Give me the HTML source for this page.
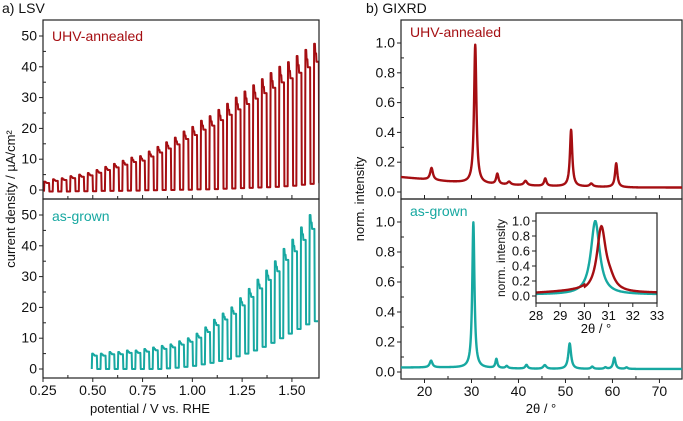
<!DOCTYPE html>
<html><head><meta charset="utf-8"><style>
html,body{margin:0;padding:0;background:#fff}
svg{display:block;font-family:"Liberation Sans",Arial,sans-serif}
</style></head><body>
<svg id="fig" width="683" height="421" viewBox="0 0 683 421" xmlns="http://www.w3.org/2000/svg"></svg>
<script>
// ---------- LSV data ----------
const lsvPeriod = 0.0437;
const annealedStart = 0.255;
const annealedPeaks = [2.7,3.5,3.8,4.5,5,5.5,6.5,7.5,8.5,9.5,10.5,11,12.5,14,15.5,17,19,20.5,22.5,24,26,28,30,32,34,36,38,40,41.5,43.5,45.5,47.5];
const annealedDark = [-0.5,-0.5,-0.5,-0.4,-0.4,-0.4,-0.3,-0.3,-0.3,-0.2,-0.2,-0.1,-0.1,0,0,0.1,0.1,0.2,0.2,0.3,0.4,0.5,0.6,0.7,0.8,0.9,1.0,1.2,1.4,1.7,2.0,2.4];
const grownStart = 0.495;
const grownPeaks = [5,5,5.5,5.5,6,6,6.5,7,7.5,8,9,10,11.5,13.5,16,18,20,23,26,29,32,35,39,42,46,50];
const grownDark = [0,0,0,0,0,0,0,0,0.2,0.4,0.7,1,1.5,2,2.6,3.3,4.1,5,6,7.2,8.5,10,11.5,13,14.5,15.5];
const lsvXTicks = [0.25,0.50,0.75,1.00,1.25,1.50];
const lsvYTicks = [0,10,20,30,40,50];
// ---------- XRD data ----------
const annealedXrdCenters = [21.5,30.8,35.5,38,41.5,45.7,51.2,55.5,60.8];
const annealedXrdHeights = [0.08,0.93,0.07,0.02,0.03,0.05,0.38,0.02,0.16];
const annealedXrdWidths  = [0.35,0.3,0.3,0.4,0.4,0.3,0.3,0.4,0.3];
const annealedBg = [0.1,0.07,0.05,0.04,0.035,0.03,0.03];   // at 15,25,35,45,55,65,75
const grownXrdCenters = [21.4,30.4,35.3,37.5,41.7,45.6,50.9,55.7,58.5,60.4,63];
const grownXrdHeights = [0.045,0.97,0.06,0.015,0.025,0.025,0.17,0.015,0.01,0.075,0.01];
const grownXrdWidths  = [0.35,0.28,0.25,0.3,0.3,0.4,0.35,0.3,0.3,0.3,0.3];
const grownBg = [0.03,0.03,0.025,0.02,0.02,0.02,0.02];
const xrdXTicks = [20,30,40,50,60,70];
const xrdYTicks = [0.0,0.2,0.4,0.6,0.8,1.0];
const insetXTicks = [28,29,30,31,32,33];
const insetYTicks = [0.0,0.2,0.4,0.6,0.8,1.0];

const RED='#a50e12', TEAL='#17a8a1';
const svg=document.getElementById('fig');
const NS='http://www.w3.org/2000/svg';
function mk(tag,attrs,parent){const e=document.createElementNS(NS,tag);for(const k in attrs)e.setAttribute(k,attrs[k]);(parent||svg).appendChild(e);return e;}
function txt(s,x,y,size,anchor,fill,name,parent){const t=mk('text',{x:x,y:y,'font-size':size,'text-anchor':anchor||'middle',fill:fill||'#111'},parent);t.textContent=s;


return t;}
function lin(d0,d1,r0,r1){return v=>r0+(v-d0)*(r1-r0)/(d1-d0);}

function frame(x0,y0,x1,y1,name){const r=mk('rect',{x:x0,y:y0,width:x1-x0,height:y1-y0,fill:'none',stroke:'#222','stroke-width':1.2});

}

function yAxis(ticks,sy,x0,fmt,size,name,minor){
  ticks.forEach(v=>{const y=sy(v);mk('line',{x1:x0-4,x2:x0,y1:y,y2:y,stroke:'#222'});
    txt(fmt(v),x0-6,y+4.5,size,'end','#111',name);});
  if(minor)minor.forEach(v=>{const y=sy(v);mk('line',{x1:x0,x2:x0+3,y1:y,y2:y,stroke:'#222'});});
}
function xAxis(ticks,sx,yb,fmt,size,name,labels,up){
  ticks.forEach(v=>{const x=sx(v);mk('line',{x1:x,x2:x,y1:yb,y2:up?yb-4:yb+4,stroke:'#222'});
    if(labels)txt(fmt(v),x,yb+17,size,'middle','#111',name);});
}

// ---------- LSV panels ----------
const LX0=43,LX1=319;
const sxL=lin(0.25,1.636,LX0,LX1);
const syTop=lin(0,50,190,36), syBot=lin(0,50,369,215);
const lc=mk('clipPath',{id:'lc'});mk('rect',{x:LX0,y:20,width:LX1-LX0,height:358},lc);
const lg=mk('g',{'clip-path':'url(#lc)'});
frame(LX0,20,LX1,199,'lsv-annealed-frame');
frame(LX0,199,LX1,378,'lsv-grown-frame');
yAxis(lsvYTicks,syTop,LX0,v=>v,14,'lsv-annealed-y-tick',[5,15,25,35,45]);
yAxis(lsvYTicks,syBot,LX0,v=>v,14,'lsv-grown-y-tick',[5,15,25,35,45]);
xAxis(lsvXTicks,sxL,199,v=>v.toFixed(2),14,'lsv-x-tick',false,true);
xAxis(lsvXTicks,sxL,378,v=>v.toFixed(2),14,'lsv-x-tick',true,false);
[0.375,0.625,0.875,1.125,1.375].forEach(v=>{mk('line',{x1:sxL(v),x2:sxL(v),y1:378,y2:375,stroke:'#222'});mk('line',{x1:sxL(v),x2:sxL(v),y1:199,y2:196,stroke:'#222'});});

function lsvPath(start,peaks,dark,sy,color,name){
  let d='';
  peaks.forEach((p,i)=>{
    const v0=start+i*lsvPeriod, von=v0+lsvPeriod*0.04, voff=v0+lsvPeriod*0.58, vend=v0+lsvPeriod;
    const b=dark[i], plat=b+(p-b)*0.87, mid=b+(p-b)*0.93;
    d+=(i===0?'M':'L')+sxL(v0)+','+sy(b)+' L'+sxL(von)+','+sy(p)+' L'+sxL(von+0.004)+','+sy(p)+' L'+sxL(von+0.006)+','+sy(mid)
      +' L'+sxL(von+0.010)+','+sy(mid)+' L'+sxL(von+0.012)+','+sy(plat)+' L'+sxL(voff)+','+sy(plat)+' L'+sxL(voff+0.002)+','+sy(b)+' L'+sxL(vend)+','+sy(b)+' ';
  });
  const pth=mk('path',{d:d,fill:'none',stroke:color,'stroke-width':2,'stroke-linejoin':'round'},lg);
  
  
}
lsvPath(annealedStart,annealedPeaks,annealedDark,syTop,RED,'lsv-annealed-line');
lsvPath(grownStart,grownPeaks,grownDark,syBot,TEAL,'lsv-grown-line');
txt('UHV-annealed',52,41,14,'start',RED,'lsv-annealed-label');
txt('as-grown',52,221,14,'start',TEAL,'lsv-grown-label');
txt('a) LSV',2,13,14,'start','#111','panel-a-title');
const yl=txt('current density / µA/cm²',0,0,13,'middle','#111','lsv-y-axis-title');yl.setAttribute('transform','translate(15,199) rotate(-90)');
txt('potential / V vs. RHE',150,413,13,'middle','#111','lsv-x-axis-title');

// ---------- XRD ----------
const RX0=401,RX1=682;
const sxR=lin(15,74.8,RX0,RX1);
const syRT=lin(0,1,192,43), syRB=lin(0,1,372,222);
frame(RX0,20,RX1,199,'xrd-annealed-frame');
frame(RX0,199,RX1,379,'xrd-grown-frame');
yAxis(xrdYTicks,syRT,RX0,v=>v.toFixed(1),14,'xrd-annealed-y-tick',[0.1,0.3,0.5,0.7,0.9]);
yAxis(xrdYTicks,syRB,RX0,v=>v.toFixed(1),14,'xrd-grown-y-tick',[0.1,0.3,0.5,0.7,0.9]);
xAxis(xrdXTicks,sxR,199,v=>v,14,'xrd-x-tick',false,true);
xAxis(xrdXTicks,sxR,379,v=>v,14,'xrd-x-tick',true,false);
[25,35,45,55,65].forEach(v=>{mk('line',{x1:sxR(v),x2:sxR(v),y1:379,y2:376,stroke:'#222'});mk('line',{x1:sxR(v),x2:sxR(v),y1:199,y2:196,stroke:'#222'});});

function xrdVal(t,c,h,w,bg){
  const bi=Math.min(5,Math.max(0,Math.floor((t-15)/10))), f=(t-15-bi*10)/10;
  let y=bg[bi]*(1-f)+bg[bi+1]*f;
  for(let k=0;k<c.length;k++){const u=(t-c[k])/w[k];y+=h[k]/(1+u*u);}
  return y;
}
function xrdPath(t0,t1,step,c,h,w,bg,sx,sy,color,name,sw){
  let d='';
  for(let t=t0;t<=t1+1e-9;t+=step){d+=(d?'L':'M')+sx(t).toFixed(2)+','+sy(xrdVal(t,c,h,w,bg)).toFixed(2)+' ';}
  const p=mk('path',{d:d,fill:'none',stroke:color,'stroke-width':sw,'stroke-linejoin':'round'});
  
  
}
xrdPath(15,74.8,0.05,annealedXrdCenters,annealedXrdHeights,annealedXrdWidths,annealedBg,sxR,syRT,RED,'xrd-annealed-line',2.4);
xrdPath(15,74.8,0.05,grownXrdCenters,grownXrdHeights,grownXrdWidths,grownBg,sxR,syRB,TEAL,'xrd-grown-line',2.4);
txt('UHV-annealed',410,37,14,'start',RED,'xrd-annealed-label');
txt('as-grown',410,216,14,'start',TEAL,'xrd-grown-label');
txt('b) GIXRD',366,13,14,'start','#111','panel-b-title');
const yr=txt('norm. intensity',0,0,13,'middle','#111','xrd-y-axis-title');yr.setAttribute('transform','translate(364,199) rotate(-90)');
txt('2θ / °',541,413,13,'middle','#111','xrd-x-axis-title');

// ---------- inset ----------
const IX0=536,IX1=657,IY0=213,IY1=303;
const sxI=lin(28,33,IX0,IX1), syI=lin(0,1,296,221);
const clip=mk('clipPath',{id:'ic'});mk('rect',{x:IX0,y:IY0,width:IX1-IX0,height:IY1-IY0},clip);
mk('rect',{x:IX0,y:IY0,width:IX1-IX0,height:IY1-IY0,fill:'#fff'});
const g=mk('g',{'clip-path':'url(#ic)'});
function inPath(c,h,w,base,color,name){
  let d='';
  for(let t=28;t<=33.001;t+=0.02){let y=base(t);for(let k=0;k<c.length;k++){const u=(t-c[k])/w[k];y+=h[k]/(1+u*u);}
    d+=(d?'L':'M')+sxI(t).toFixed(2)+','+syI(y).toFixed(2)+' ';}
  const p=mk('path',{d:d,fill:'none',stroke:color,'stroke-width':2.4},g);
  
  
}
inPath([30.45],[0.98],[0.22],t=>0.02,TEAL,'inset-grown-line');
inPath([30.7,31.05],[0.85,0.12],[0.22,0.25],t=>t<30?0.04+0.03*(t-28)/2:0.04,RED,'inset-annealed-line');
frame(IX0,IY0,IX1,IY1,'inset-frame');
yAxis(insetYTicks,syI,IX0,v=>v.toFixed(1),13,'inset-y-tick');
xAxis(insetXTicks,sxI,IY1,v=>v,13,'inset-x-tick',true,false);
const yi=txt('norm. intensity',0,0,12,'middle','#111','inset-y-axis-title');yi.setAttribute('transform','translate(505,258) rotate(-90)');
txt('2θ / °',596,333,13,'middle','#111','inset-x-axis-title');
</script>
</body></html>
